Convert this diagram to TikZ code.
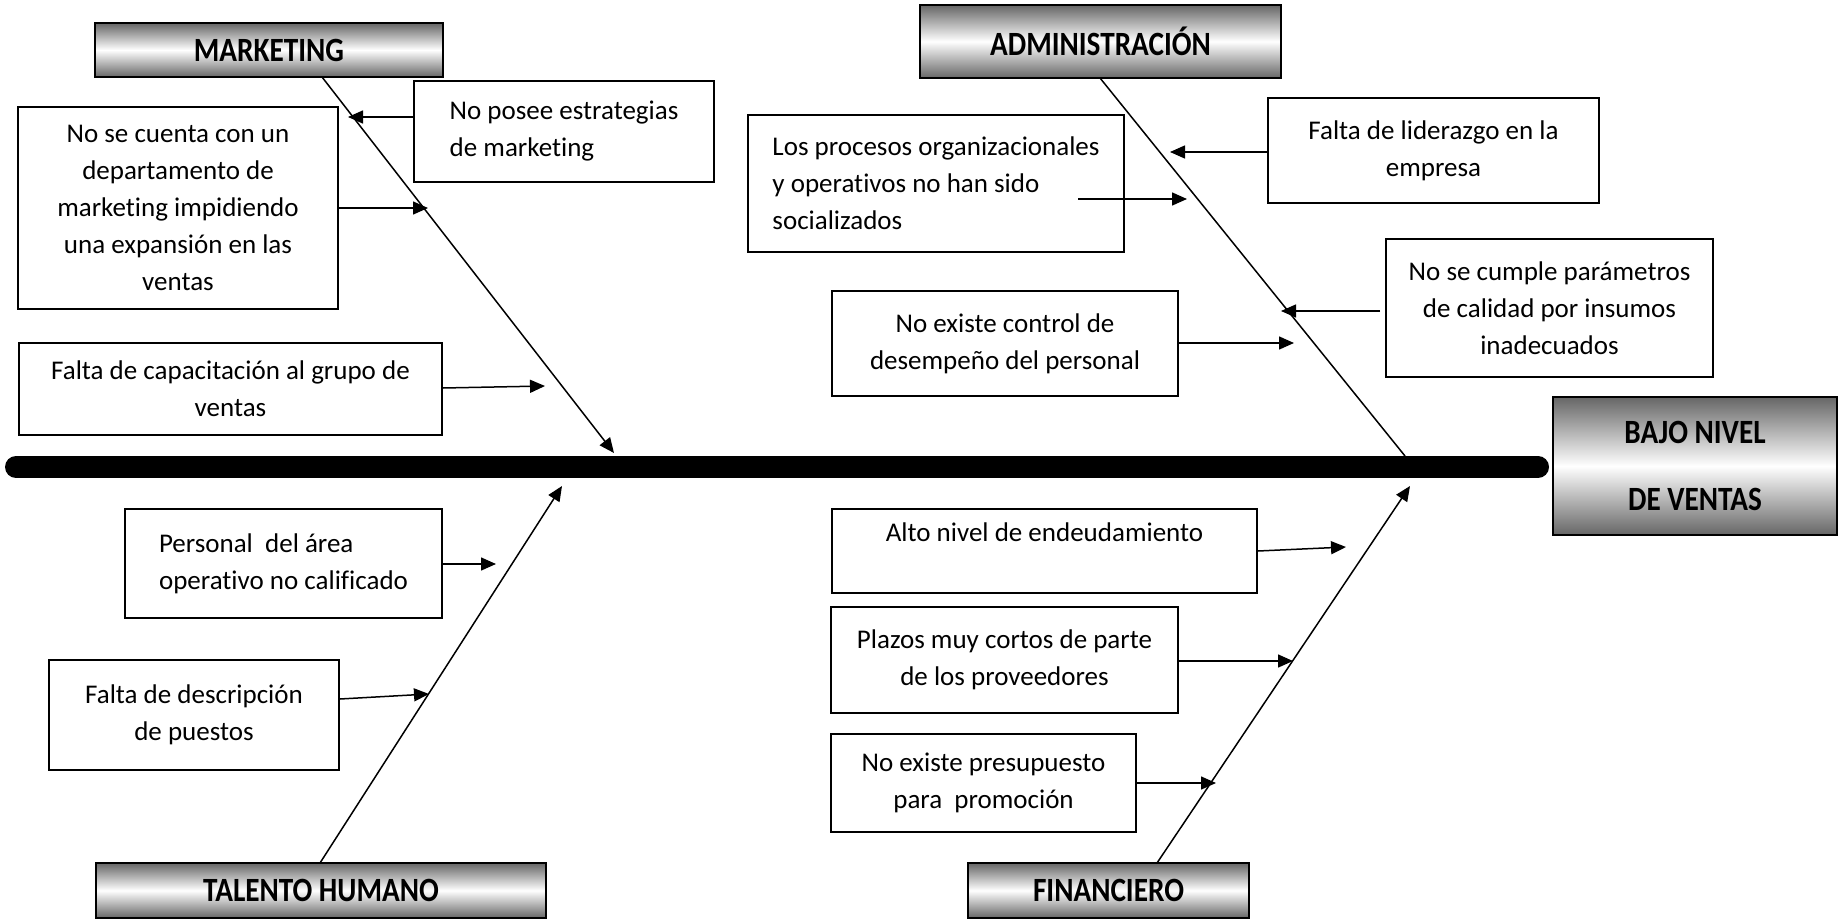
\documentclass[tikz,border=0pt]{standalone}
\usepackage{fontspec}
\setmainfont{Carlito}[Ligatures=NoCommon]
\newfontfamily\hdfont{Carlito}[FakeStretch=0.86]
\usetikzlibrary{arrows.meta}
\begin{document}
\begin{tikzpicture}[x=1pt,y=-1pt,
  causebox/.style={draw, line width=1.8pt, inner sep=0pt, align=center,
    font=\fontsize{27}{37}\selectfont},
  headbox/.style={draw, line width=2.4pt, inner sep=0pt, align=center,
    top color=black!60, bottom color=black!60, middle color=white,
    font=\hdfont\bfseries\fontsize{34}{67}\selectfont},
  bone/.style={line width=1.5pt},
  tip/.style={line width=1.5pt, -{Triangle[length=15pt,width=13pt]}}]
\useasboundingbox (0,0) rectangle (1838,920);

% spine
\coordinate (spL) at (16,467);
\coordinate (spR) at (1538,467);
\draw[line width=22pt, line cap=round] (spL) -- (spR);

% head boxes
\node[headbox, minimum width=348pt, minimum height=54pt] (mk) at (269,50) {MARKETING};
\node[headbox, minimum width=361pt, minimum height=73pt] (ad) at (1100.5,41.5) {ADMINISTRACIÓN};
\node[headbox, minimum width=450pt, minimum height=55pt] (th) at (321,890.5) {TALENTO HUMANO};
\node[headbox, minimum width=281pt, minimum height=55pt] (fi) at (1108.5,890.5) {FINANCIERO};
\node[headbox, minimum width=284pt, minimum height=138pt] (ef) at (1695,466) {BAJO NIVEL\\DE VENTAS};

% bones
\coordinate (mkS) at (322,77);
\coordinate (mkE) at (614,453);
\draw[tip] (mkS) -- (mkE);
\coordinate (adS) at (1100,78);
\coordinate (adE) at (1405,456);
\draw[bone] (adS) -- (adE);
\coordinate (thS) at (320,863);
\coordinate (thE) at (562,486);
\draw[tip] (thS) -- (thE);
\coordinate (fiS) at (1157,863);
\coordinate (fiE) at (1410,486);
\draw[tip] (fiS) -- (fiE);

% marketing causes
\node[causebox, align=left, minimum width=300pt, minimum height=101pt] (m1) at (564,131.5) {No posee estrategias\\de marketing};
\node[causebox, minimum width=320pt, minimum height=202pt] (m2) at (178,208) {No se cuenta con un\\departamento de\\marketing impidiendo\\una expansión en las\\ventas};
\node[causebox, minimum width=423pt, minimum height=92pt] (m3) at (230.5,389) {Falta de capacitación al grupo de\\ventas};

% administracion causes
\node[causebox, align=left, minimum width=376pt, minimum height=137pt] (a1) at (936,183.5) {Los procesos organizacionales\\y operativos no han sido\\socializados};
\node[causebox, minimum width=331pt, minimum height=105pt] (a2) at (1433.5,150.5) {Falta de liderazgo en la\\empresa};
\node[causebox, minimum width=327pt, minimum height=138pt] (a3) at (1549.5,308) {No se cumple parámetros\\de calidad por insumos\\inadecuados};
\node[causebox, minimum width=346pt, minimum height=105pt] (a4) at (1005,343.5) {No existe control de\\desempeño del personal};

% talento humano causes
\node[causebox, align=left, minimum width=317pt, minimum height=109pt] (t1) at (283.5,563.5) {Personal\ \ del área\\operativo no calificado};
\node[causebox, minimum width=290pt, minimum height=110pt] (t2) at (194,715) {Falta de descripción\\de puestos};

% financiero causes
\node[causebox, minimum width=425pt, minimum height=84pt] (f1) at (1044.5,551) {Alto nivel de endeudamiento\\\mbox{}};
\node[causebox, minimum width=347pt, minimum height=106pt] (f2) at (1004.5,660) {Plazos muy cortos de parte\\de los proveedores};
\node[causebox, minimum width=305pt, minimum height=98pt] (f3) at (983.5,783) {No existe presupuesto\\para\ \ promoción};

% cause arrows
\coordinate (m1t) at (348,117);
\coordinate (m2t) at (428,208);
\coordinate (m3t) at (545,386);
\coordinate (a1s) at (1078,199);
\coordinate (a1t) at (1187,199);
\coordinate (a2t) at (1170,152);
\coordinate (a3s) at (1380,311);
\coordinate (a3t) at (1281,311);
\coordinate (a4t) at (1294,343);
\coordinate (t1t) at (496,564);
\coordinate (t2t) at (429,694);
\coordinate (f1t) at (1346,547);
\coordinate (f2t) at (1293,661);
\coordinate (f3t) at (1216,783);

\draw[tip] (m1.west |- m1t) -- (m1t);
\draw[tip] (m2.east |- m2t) -- (m2t);
\draw[tip] (m3.east |- 0,388) -- (m3t);
\draw[tip] (a1s) -- (a1t);
\draw[tip] (a2.west |- a2t) -- (a2t);
\draw[tip] (a3s) -- (a3t);
\draw[tip] (a4.east |- a4t) -- (a4t);
\draw[tip] (t1.east |- t1t) -- (t1t);
\draw[tip] (t2.east |- 0,699) -- (t2t);
\draw[tip] (f1.east |- 0,551) -- (f1t);
\draw[tip] (f2.east |- f2t) -- (f2t);
\draw[tip] (f3.east |- f3t) -- (f3t);
\end{tikzpicture}
\end{document}
